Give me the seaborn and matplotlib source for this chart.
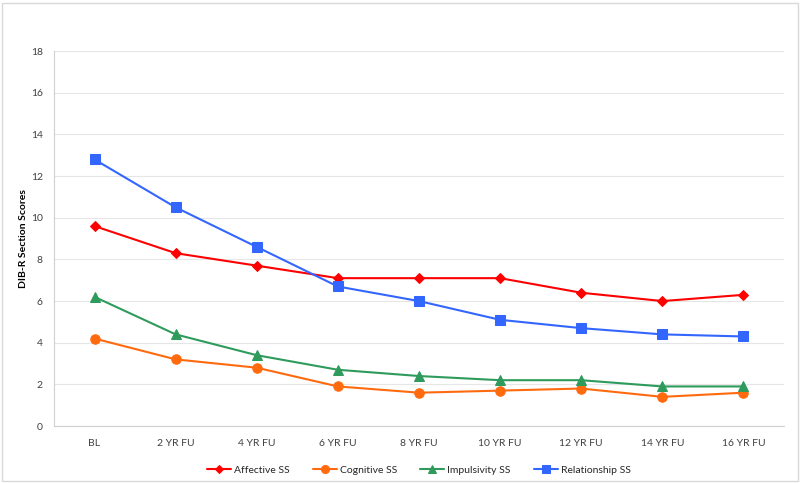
import numpy as np
import pandas as pd
import matplotlib
matplotlib.use("Agg")
import matplotlib.pyplot as plt
import seaborn as sns
from matplotlib.patches import Rectangle

categories = ["BL", "2 YR FU", "4 YR FU", "6 YR FU", "8 YR FU",
              "10 YR FU", "12 YR FU", "14 YR FU", "16 YR FU"]
affective = [9.6, 8.3, 7.7, 7.1, 7.1, 7.1, 6.4, 6.0, 6.3]
cognitive = [4.2, 3.2, 2.8, 1.9, 1.6, 1.7, 1.8, 1.4, 1.6]
impulsivity = [6.2, 4.4, 3.4, 2.7, 2.4, 2.2, 2.2, 1.9, 1.9]
relationship = [12.8, 10.5, 8.6, 6.7, 6.0, 5.1, 4.7, 4.4, 4.3]
series_names = ["Affective SS", "Cognitive SS", "Impulsivity SS", "Relationship SS"]
y_ticks = [0, 2, 4, 6, 8, 10, 12, 14, 16, 18]

colors = ["#FF0000", "#FF6A0E", "#2E9B5C", "#3366FF"]
markers = ["D", "o", "^", "s"]
msizes = [5, 6.8, 7, 6.8]

sns.set_theme(style="white")
plt.rcParams['font.family'] = ['Lato', 'DejaVu Sans']

fig = plt.figure(figsize=(8, 4.83), dpi=100)
ax = fig.add_axes([0.0675, 0.118, 0.9125, 0.776])

rows = []
for name, vals in zip(series_names, [affective, cognitive, impulsivity, relationship]):
    for i, v in enumerate(vals):
        rows.append({"x": i, "value": v, "series": name})
df = pd.DataFrame(rows)

for name, c, m, ms in zip(series_names, colors, markers, msizes):
    sub = df[df["series"] == name]
    sns.lineplot(data=sub, x="x", y="value", ax=ax, color=c, marker=m,
                 markersize=ms, markeredgecolor=c, linewidth=1.5, label=name)

fs = 7.5
ax.set_xlim(-0.5, len(categories) - 0.5)
ax.set_ylim(0, 18)
ax.set_yticks(y_ticks)
ax.set_yticklabels([str(t) for t in y_ticks], fontsize=fs, color="#404040")
ax.set_xticks(range(len(categories)))
ax.set_xticklabels(categories, fontsize=fs, color="#404040")
ax.tick_params(axis="x", length=0, pad=9)
ax.set_xticks(np.arange(-0.5, len(categories), 1.0), minor=True)
ax.tick_params(axis="x", which="minor", length=4, color="#D0D0D0", width=0.8)
ax.tick_params(axis="y", length=4, color="#D0D0D0", width=0.8, pad=4)
ax.yaxis.grid(True, color="#E6E6E6", linewidth=0.8)
ax.set_axisbelow(True)
for s in ["top", "right"]:
    ax.spines[s].set_visible(False)
ax.spines["left"].set_color("#D0D0D0")
ax.spines["bottom"].set_color("#D0D0D0")
ax.spines["left"].set_linewidth(0.8)
ax.spines["bottom"].set_linewidth(0.8)
ax.set_xlabel("")
ax.set_ylabel("DIB-R Section Scores", fontsize=fs, fontweight="bold", color="#000000")
ax.yaxis.set_label_coords(-0.036, 0.5)

ax.legend(loc="center", bbox_to_anchor=(0.5, -0.117), ncol=4, frameon=False,
          fontsize=fs, handlelength=2.3, columnspacing=2.2, handletextpad=0.3,
          markerscale=0.85)

fig.patches.append(Rectangle((0.003, 0.004), 0.994, 0.99, transform=fig.transFigure,
                             fill=False, edgecolor="#D9D9D9", linewidth=1.0))

fig.savefig("out.png", dpi=100)
